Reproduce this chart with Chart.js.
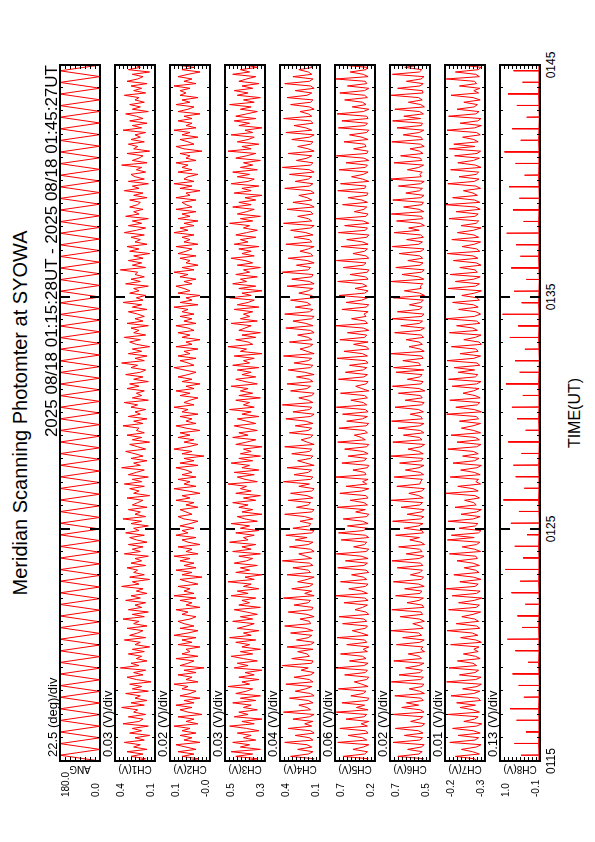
<!DOCTYPE html>
<html>
<head>
<meta charset="utf-8">
<script src="https://cdn.jsdelivr.net/npm/chart.js@4.4.0/dist/chart.umd.min.js"></script>
<style>
html, body { margin: 0; padding: 0; background: #fff; }
body { width: 595px; height: 842px; overflow: hidden; position: relative; font-family: "Liberation Sans", Arial, sans-serif; }
/* the figure is laid out in landscape and turned a quarter to the left */
#land { position: absolute; left: 0; top: 0; width: 842px; height: 595px; transform-origin: 0 0; transform: translate(0, 842px) rotate(-90deg); }
#land canvas { position: absolute; }
.t { position: absolute; white-space: nowrap; color: #000; line-height: 1; }
</style>
</head>
<body>
<div id="land"></div>
<script>
const titleText = "Meridian Scanning Photomter at SYOWA";
const rangeText = "2025 08/18 01:15:28UT - 2025 08/18 01:45:27UT";
const spanSec = 1800;

const panelNames = ["ANG", "CH1(V)", "CH2(V)", "CH3(V)", "CH4(V)", "CH5(V)", "CH6(V)", "CH7(V)", "CH8(V)"];
const panelDiv = ["22.5 (deg)/div", "0.03 (V)/div", "0.02 (V)/div", "0.03 (V)/div", "0.04 (V)/div", "0.06 (V)/div", "0.02 (V)/div", "0.01 (V)/div", "0.13 (V)/div"];
const topLabels = ["180.0", "0.4", "0.1", "0.5", "0.4", "0.7", "0.7", "-0.2", "1.0"];
const bottomLabels = ["0.0", "0.1", "-0.0", "0.3", "0.1", "0.2", "0.5", "-0.3", "-0.1"];
const axisMin = [0, 0.1, -0.05, 0.28, 0.08, 0.16, 0.5, -0.3, -0.12];
const axisMax = [180, 0.4, 0.15, 0.54, 0.42, 0.74, 0.7, -0.2, 1.02];
const axisDivs = [8, 10, 10, 10, 10, 10, 10, 10, 10];

const timeLabels = ["0115", "0125", "0135", "0145"];
const timeLabelSec = [0, 600, 1200, 1800];

// scan angle turning points (deg), one every half sweep
const ang = [0,180,0,180,0,180,0,180,0,180,0,180,0,180,0,180,0,180,0,180,
  0,180,0,180,0,180,0,180,0,180,0,180,0,180,0,180,0,180,0,180,
  0,180,0,180,0,180,0,180,0,180,0,180,0,180,0,180,0,180,0,180,
  0,180,0,180,0,180,0,180,0,180,0,180,0,180,0,180,0,180,0,180,
  0,180,0,180,0,180,0,180,0,180,0,180,0,180,0,180,0,180,0,180,
  0,180,0,180,0,180,0,180,0,180,0,180,0,180,0,180,0,180,0,180,0];

const ch1 = [0.24,0.17,0.28,0.19,0.31,0.16,0.26,0.21,0.33,0.18,0.25,0.14,
  0.29,0.20,0.27,0.15,0.34,0.22,0.19,0.30,0.17,0.26,0.23,0.35,
  0.18,0.28,0.16,0.25,0.21,0.32,0.15,0.27,0.20,0.29,0.13,0.24,
  0.31,0.19,0.26,0.17,0.36,0.22,0.28,0.16,0.24,0.20,0.30,0.18,
  0.27,0.14,0.25,0.21,0.33,0.17,0.29,0.23,0.19,0.31,0.16,0.26,
  0.22,0.34,0.18,0.27,0.15,0.30,0.20,0.25,0.17,0.32,0.21,0.28,
  0.16,0.24,0.19,0.35,0.22,0.27,0.14,0.29,0.18,0.26,0.23,0.31,
  0.17,0.28,0.20,0.25,0.15,0.33,0.21,0.27,0.19,0.30,0.16,0.24,
  0.29,0.18,0.32,0.22,0.26,0.15,0.28,0.20,0.34,0.17,0.25,0.21,
  0.30,0.16,0.27,0.23,0.19,0.31,0.14,0.26,0.22,0.29,0.18,0.33,
  0.20,0.27,0.15,0.30,0.24,0.18,0.35,0.21,0.26,0.16,0.28,0.19,
  0.25,0.32,0.17,0.23,0.29,0.14,0.27,0.20,0.31,0.18,0.24,0.22,
  0.34,0.19,0.26,0.16,0.30,0.21,0.25,0.17,0.28,0.23,0.33,0.15,
  0.27,0.20,0.24,0.18,0.31,0.22,0.29,0.15,0.26,0.19,0.32,0.21,
  0.17,0.28,0.23,0.35,0.18,0.25,0.16,0.30,0.20,0.27,0.14,0.24,
  0.29,0.21,0.33,0.17,0.26,0.22,0.28,0.15,0.31,0.19,0.25,0.18,
  0.23,0.30,0.16,0.27,0.20,0.34,0.19,0.24,0.17,0.29,0.22,0.26,
  0.15,0.32,0.21,0.28,0.18,0.25,0.23,0.36,0.17,0.27,0.20,0.30,
  0.19,0.26,0.14,0.29,0.22,0.31,0.16,0.25,0.21,0.28,0.18,0.33,
  0.24,0.17,0.30,0.20,0.27,0.15,0.32,0.22,0.26,0.19,0.29,0.23,
  0.21,0.29,0.16,0.26,0.19,0.33,0.22,0.27,0.15,0.30,0.18,0.25,
  0.28,0.17,0.24,0.20,0.35,0.16,0.27,0.22,0.19,0.31,0.14,0.26,
  0.23,0.30,0.18,0.28,0.21,0.25,0.17,0.34,0.20,0.27,0.16,0.29,
  0.19,0.24,0.32,0.15,0.27,0.21,0.29,0.18,0.25,0.22,0.33,0.17,
  0.26,0.20,0.28,0.16,0.31,0.23,0.19,0.27,0.14,0.30,0.21,0.25];

const ch2 = [0.06,0.01,0.09,0.03,0.11,0.02,0.07,0.12,0.00,0.08,0.04,0.10,
  0.02,0.09,0.05,0.13,0.01,0.07,0.03,0.11,-0.01,0.06,0.10,0.04,
  0.12,0.03,0.08,0.00,0.10,0.05,0.02,0.09,0.06,0.13,0.01,0.07,
  0.04,0.11,0.02,0.08,-0.02,0.10,0.06,0.03,0.12,0.01,0.09,0.05,
  0.07,0.00,0.11,0.04,0.09,0.02,0.13,0.06,0.01,0.10,0.03,0.08,
  0.11,0.05,0.02,0.09,0.06,0.12,0.00,0.07,0.04,0.10,0.02,0.13,
  0.03,0.08,0.05,0.11,0.01,0.06,0.10,-0.01,0.09,0.04,0.12,0.02,
  0.08,0.03,0.10,0.05,0.13,0.01,0.07,0.04,0.11,0.00,0.06,0.09,
  0.02,0.12,0.06,0.09,0.03,0.10,0.05,0.01,0.08,0.11,0.04,0.07,
  0.10,0.01,0.07,0.03,0.12,0.05,0.09,0.00,0.06,0.13,0.02,0.08,
  0.05,0.11,0.02,0.09,0.04,0.07,0.12,0.01,0.10,0.03,0.08,-0.02,
  0.09,0.04,0.13,0.06,0.01,0.08,0.03,0.11,0.05,0.10,0.00,0.07,
  0.12,0.02,0.07,0.04,0.10,0.01,0.09,0.06,0.13,0.03,0.08,0.05,
  0.01,0.10,0.05,0.12,0.03,0.07,0.00,0.09,0.04,0.11,0.06,0.02,
  0.08,0.13,0.03,0.06,0.10,0.02,0.11,0.05,0.08,0.01,0.12,0.04,
  0.07,0.00,0.09,0.05,0.11,0.03,0.06,0.12,0.02,0.08,0.04,0.10,
  0.03,0.09,0.06,0.13,0.01,0.10,0.04,0.07,0.00,0.11,0.05,0.08,
  0.12,0.04,0.08,0.02,0.10,0.06,0.13,0.03,0.09,0.01,0.07,0.05,
  0.10,0.02,0.11,0.07,0.04,0.12,0.01,0.08,0.05,0.09,0.03,0.13,
  0.06,0.10,0.03,0.08,0.01,0.11,0.05,0.09,0.02,0.12,0.04,0.07,
  0.09,0.02,0.12,0.05,0.07,0.00,0.10,0.04,0.13,0.03,0.08,0.06,
  0.01,0.11,0.04,0.09,0.06,0.12,0.02,0.07,0.05,0.10,-0.01,0.08,
  0.12,0.03,0.06,0.10,0.01,0.09,0.05,0.13,0.02,0.07,0.04,0.11,
  0.04,0.08,0.00,0.11,0.06,0.03,0.12,0.05,0.09,0.01,0.10,0.07,
  0.10,0.05,0.13,0.02,0.08,0.04,0.11,0.06,0.00,0.09,0.03,0.12];

const ch3 = [0.41,0.33,0.47,0.36,0.50,0.31,0.44,0.38,0.49,0.34,0.42,0.37,
  0.46,0.32,0.40,0.51,0.35,0.43,0.30,0.48,0.39,0.45,0.33,0.42,
  0.37,0.49,0.34,0.44,0.31,0.47,0.40,0.36,0.52,0.38,0.43,0.32,
  0.45,0.35,0.41,0.30,0.48,0.39,0.46,0.33,0.42,0.50,0.36,0.44,
  0.31,0.43,0.38,0.47,0.34,0.51,0.37,0.42,0.32,0.46,0.40,0.35,
  0.49,0.36,0.44,0.33,0.40,0.48,0.31,0.45,0.38,0.43,0.34,0.50,
  0.39,0.46,0.32,0.42,0.37,0.52,0.35,0.41,0.30,0.47,0.38,0.44,
  0.33,0.48,0.40,0.36,0.45,0.31,0.49,0.37,0.43,0.34,0.51,0.39,
  0.42,0.35,0.47,0.32,0.44,0.38,0.50,0.33,0.41,0.46,0.30,0.43,
  0.36,0.45,0.39,0.49,0.34,0.42,0.31,0.47,0.37,0.44,0.40,0.52,
  0.33,0.41,0.46,0.35,0.48,0.32,0.43,0.38,0.50,0.36,0.45,0.31,
  0.44,0.37,0.42,0.30,0.47,0.40,0.34,0.49,0.39,0.45,0.33,0.41,
  0.48,0.34,0.40,0.46,0.32,0.43,0.37,0.51,0.35,0.42,0.38,0.47,
  0.31,0.45,0.36,0.44,0.39,0.50,0.33,0.41,0.47,0.34,0.43,0.37,
  0.46,0.32,0.49,0.38,0.42,0.35,0.48,0.30,0.44,0.40,0.52,0.36,
  0.39,0.47,0.34,0.43,0.31,0.45,0.41,0.37,0.50,0.33,0.44,0.38,
  0.42,0.36,0.48,0.32,0.46,0.39,0.35,0.51,0.37,0.43,0.30,0.45,
  0.34,0.49,0.40,0.44,0.33,0.47,0.38,0.42,0.31,0.46,0.36,0.41,
  0.50,0.35,0.43,0.37,0.45,0.32,0.48,0.39,0.44,0.34,0.47,0.40,
  0.33,0.42,0.38,0.51,0.36,0.44,0.31,0.46,0.40,0.35,0.49,0.37,
  0.45,0.34,0.41,0.30,0.48,0.37,0.43,0.32,0.50,0.39,0.35,0.46,
  0.38,0.49,0.33,0.44,0.36,0.42,0.31,0.47,0.40,0.34,0.52,0.37,
  0.43,0.32,0.46,0.39,0.35,0.50,0.36,0.41,0.30,0.45,0.38,0.48,
  0.34,0.47,0.40,0.33,0.44,0.37,0.51,0.35,0.42,0.31,0.46,0.39,
  0.48,0.36,0.43,0.32,0.45,0.40,0.34,0.49,0.38,0.44,0.33,0.41];

const ch4 = [0.16,0.13,0.33,0.18,0.14,0.27,0.15,0.19,0.38,0.14,0.17,0.29,
  0.13,0.16,0.35,0.15,0.21,0.14,0.31,0.17,0.13,0.39,0.16,0.19,
  0.26,0.14,0.18,0.34,0.13,0.16,0.29,0.20,0.15,0.37,0.14,0.17,
  0.30,0.16,0.13,0.24,0.18,0.40,0.15,0.14,0.32,0.17,0.19,0.27,
  0.14,0.36,0.16,0.13,0.28,0.18,0.15,0.33,0.14,0.20,0.38,0.16,
  0.17,0.25,0.13,0.19,0.35,0.15,0.14,0.30,0.18,0.16,0.39,0.13,
  0.21,0.15,0.32,0.17,0.14,0.27,0.19,0.13,0.36,0.16,0.18,0.31,
  0.14,0.17,0.40,0.15,0.20,0.26,0.13,0.16,0.34,0.18,0.14,0.29,
  0.19,0.37,0.15,0.13,0.31,0.17,0.16,0.25,0.14,0.21,0.38,0.15,
  0.13,0.28,0.18,0.16,0.35,0.14,0.19,0.33,0.15,0.13,0.26,0.17,
  0.39,0.16,0.14,0.30,0.18,0.15,0.36,0.13,0.20,0.27,0.16,0.14,
  0.32,0.17,0.15,0.38,0.13,0.19,0.24,0.16,0.14,0.34,0.18,0.15,
  0.29,0.14,0.20,0.37,0.16,0.13,0.31,0.17,0.15,0.40,0.14,0.18,
  0.26,0.15,0.13,0.33,0.19,0.16,0.36,0.14,0.17,0.28,0.13,0.21,
  0.35,0.16,0.14,0.30,0.18,0.15,0.39,0.13,0.19,0.25,0.17,0.14,
  0.34,0.15,0.18,0.27,0.13,0.16,0.37,0.14,0.20,0.31,0.15,0.13,
  0.38,0.17,0.14,0.29,0.16,0.19,0.33,0.13,0.15,0.26,0.18,0.14,
  0.36,0.13,0.17,0.32,0.15,0.14,0.40,0.18,0.16,0.28,0.13,0.19,
  0.35,0.14,0.16,0.25,0.18,0.13,0.37,0.15,0.17,0.30,0.14,0.20,
  0.33,0.16,0.13,0.39,0.15,0.18,0.27,0.14,0.16,0.36,0.13,0.17,
  0.31,0.15,0.19,0.26,0.13,0.16,0.38,0.17,0.14,0.29,0.18,0.15,
  0.34,0.13,0.17,0.40,0.16,0.14,0.28,0.19,0.15,0.35,0.13,0.18,
  0.27,0.16,0.14,0.32,0.17,0.13,0.37,0.15,0.20,0.30,0.14,0.16,
  0.39,0.15,0.18,0.25,0.13,0.17,0.33,0.16,0.14,0.36,0.19,0.15,
  0.29,0.13,0.16,0.38,0.17,0.14,0.31,0.15,0.18,0.26,0.14,0.17];

const ch5 = [0.29,0.26,0.62,0.31,0.27,0.48,0.33,0.25,0.70,0.28,0.34,0.55,
  0.26,0.30,0.67,0.27,0.36,0.25,0.58,0.32,0.28,0.72,0.26,0.43,
  0.31,0.64,0.27,0.25,0.51,0.33,0.29,0.69,0.26,0.35,0.46,0.28,
  0.25,0.60,0.30,0.27,0.73,0.32,0.26,0.53,0.29,0.34,0.66,0.27,
  0.33,0.25,0.57,0.28,0.31,0.71,0.26,0.36,0.49,0.30,0.27,0.63,
  0.28,0.32,0.68,0.25,0.29,0.45,0.34,0.27,0.61,0.26,0.31,0.73,
  0.27,0.35,0.54,0.30,0.26,0.66,0.28,0.33,0.50,0.25,0.29,0.70,
  0.32,0.27,0.59,0.26,0.36,0.72,0.29,0.25,0.47,0.31,0.28,0.65,
  0.25,0.30,0.69,0.33,0.27,0.56,0.26,0.34,0.62,0.28,0.25,0.44,
  0.30,0.71,0.27,0.32,0.52,0.26,0.29,0.67,0.35,0.25,0.58,0.28,
  0.34,0.26,0.73,0.29,0.31,0.48,0.27,0.25,0.64,0.32,0.28,0.55,
  0.26,0.33,0.60,0.28,0.25,0.70,0.30,0.36,0.46,0.27,0.31,0.68,
  0.29,0.25,0.57,0.34,0.27,0.63,0.26,0.30,0.72,0.28,0.33,0.51,
  0.27,0.31,0.66,0.25,0.35,0.44,0.29,0.26,0.69,0.32,0.27,0.59,
  0.33,0.28,0.53,0.26,0.30,0.71,0.27,0.34,0.61,0.25,0.29,0.47,
  0.26,0.67,0.31,0.28,0.56,0.25,0.33,0.73,0.27,0.30,0.50,0.29,
  0.32,0.26,0.64,0.29,0.25,0.58,0.35,0.27,0.68,0.31,0.26,0.45,
  0.28,0.34,0.70,0.26,0.30,0.52,0.27,0.25,0.62,0.33,0.29,0.72,
  0.25,0.29,0.48,0.31,0.27,0.65,0.26,0.34,0.57,0.28,0.25,0.69,
  0.30,0.27,0.60,0.25,0.33,0.73,0.29,0.26,0.46,0.32,0.28,0.63,
  0.27,0.35,0.55,0.28,0.26,0.70,0.31,0.29,0.66,0.25,0.34,0.50,
  0.33,0.26,0.68,0.30,0.27,0.58,0.25,0.32,0.72,0.28,0.26,0.47,
  0.29,0.31,0.61,0.26,0.35,0.53,0.28,0.25,0.69,0.30,0.27,0.64,
  0.26,0.28,0.71,0.33,0.25,0.49,0.29,0.34,0.60,0.27,0.31,0.67,
  0.31,0.25,0.56,0.28,0.30,0.73,0.26,0.33,0.52,0.29,0.27,0.65];

const ch6 = [0.548,0.532,0.661,0.556,0.539,0.612,0.544,0.529,0.684,0.551,0.537,0.628,
  0.535,0.558,0.673,0.541,0.527,0.597,0.553,0.536,0.689,0.530,0.549,0.641,
  0.557,0.618,0.534,0.545,0.676,0.528,0.552,0.604,0.539,0.531,0.693,0.547,
  0.533,0.655,0.549,0.538,0.622,0.556,0.530,0.681,0.543,0.554,0.609,0.527,
  0.546,0.535,0.668,0.551,0.529,0.637,0.542,0.557,0.695,0.534,0.548,0.586,
  0.528,0.553,0.649,0.537,0.545,0.691,0.531,0.539,0.615,0.555,0.533,0.672,
  0.550,0.541,0.627,0.529,0.556,0.683,0.544,0.532,0.598,0.549,0.538,0.664,
  0.536,0.547,0.690,0.554,0.530,0.619,0.539,0.552,0.657,0.527,0.545,0.601,
  0.553,0.672,0.533,0.541,0.630,0.557,0.535,0.687,0.548,0.531,0.614,0.544,
  0.529,0.645,0.551,0.537,0.694,0.534,0.556,0.606,0.542,0.528,0.666,0.550,
  0.547,0.538,0.679,0.532,0.549,0.623,0.555,0.530,0.652,0.543,0.536,0.696,
  0.534,0.556,0.610,0.545,0.527,0.686,0.540,0.553,0.633,0.531,0.548,0.660,
  0.552,0.530,0.692,0.538,0.546,0.599,0.533,0.557,0.675,0.542,0.529,0.624,
  0.539,0.548,0.658,0.526,0.554,0.688,0.545,0.535,0.613,0.551,0.540,0.670,
  0.531,0.682,0.547,0.556,0.636,0.534,0.543,0.697,0.529,0.550,0.605,0.538,
  0.555,0.620,0.532,0.544,0.677,0.549,0.528,0.646,0.553,0.537,0.690,0.541,
  0.530,0.663,0.554,0.539,0.603,0.546,0.533,0.684,0.527,0.552,0.628,0.545,
  0.548,0.536,0.695,0.531,0.557,0.640,0.542,0.529,0.671,0.550,0.535,0.611,
  0.537,0.551,0.654,0.545,0.530,0.689,0.556,0.538,0.617,0.533,0.547,0.679,
  0.554,0.607,0.528,0.549,0.667,0.536,0.543,0.693,0.531,0.555,0.632,0.540,
  0.533,0.686,0.546,0.530,0.621,0.552,0.538,0.658,0.547,0.529,0.699,0.544,
  0.550,0.539,0.613,0.556,0.532,0.680,0.541,0.549,0.647,0.535,0.553,0.600,
  0.529,0.548,0.691,0.537,0.545,0.634,0.554,0.531,0.665,0.543,0.538,0.687,
  0.547,0.631,0.533,0.552,0.676,0.528,0.546,0.608,0.539,0.557,0.694,0.535,
  0.538,0.662,0.550,0.534,0.618,0.545,0.530,0.688,0.553,0.541,0.626,0.548];

const ch7 = [-0.281,-0.273,-0.226,-0.286,-0.269,-0.241,-0.278,-0.290,-0.212,-0.275,-0.284,-0.233,
  -0.288,-0.271,-0.219,-0.279,-0.292,-0.247,-0.274,-0.283,-0.207,-0.286,-0.270,-0.238,
  -0.276,-0.229,-0.289,-0.282,-0.215,-0.272,-0.287,-0.244,-0.280,-0.291,-0.204,-0.277,
  -0.290,-0.236,-0.275,-0.284,-0.210,-0.279,-0.270,-0.231,-0.288,-0.276,-0.246,-0.283,
  -0.272,-0.285,-0.214,-0.291,-0.277,-0.239,-0.282,-0.268,-0.205,-0.287,-0.279,-0.228,
  -0.284,-0.274,-0.242,-0.270,-0.289,-0.209,-0.278,-0.286,-0.234,-0.273,-0.292,-0.218,
  -0.279,-0.288,-0.203,-0.275,-0.283,-0.237,-0.290,-0.271,-0.222,-0.285,-0.276,-0.248,
  -0.286,-0.270,-0.230,-0.281,-0.277,-0.211,-0.289,-0.274,-0.243,-0.279,-0.287,-0.206,
  -0.273,-0.216,-0.284,-0.290,-0.235,-0.276,-0.282,-0.208,-0.271,-0.288,-0.240,-0.279,
  -0.291,-0.225,-0.278,-0.272,-0.249,-0.286,-0.275,-0.202,-0.283,-0.270,-0.232,-0.289,
  -0.277,-0.284,-0.213,-0.288,-0.273,-0.239,-0.280,-0.291,-0.220,-0.274,-0.285,-0.244,
  -0.283,-0.271,-0.207,-0.279,-0.290,-0.230,-0.286,-0.276,-0.215,-0.289,-0.272,-0.241,
  -0.270,-0.289,-0.236,-0.284,-0.278,-0.204,-0.291,-0.273,-0.227,-0.281,-0.287,-0.212,
  -0.288,-0.275,-0.245,-0.271,-0.285,-0.218,-0.279,-0.290,-0.209,-0.276,-0.282,-0.233,
  -0.274,-0.223,-0.287,-0.280,-0.205,-0.272,-0.289,-0.238,-0.283,-0.277,-0.216,-0.291,
  -0.285,-0.247,-0.276,-0.290,-0.211,-0.281,-0.270,-0.229,-0.287,-0.279,-0.203,-0.273,
  -0.289,-0.277,-0.234,-0.283,-0.271,-0.219,-0.286,-0.280,-0.242,-0.274,-0.291,-0.208,
  -0.276,-0.286,-0.226,-0.272,-0.288,-0.213,-0.281,-0.275,-0.237,-0.290,-0.278,-0.221,
  -0.282,-0.270,-0.206,-0.287,-0.279,-0.243,-0.273,-0.289,-0.217,-0.284,-0.272,-0.231,
  -0.271,-0.290,-0.240,-0.278,-0.284,-0.210,-0.275,-0.283,-0.228,-0.288,-0.276,-0.201,
  -0.287,-0.274,-0.219,-0.281,-0.270,-0.246,-0.289,-0.277,-0.207,-0.273,-0.285,-0.235,
  -0.278,-0.284,-0.214,-0.290,-0.276,-0.232,-0.271,-0.286,-0.224,-0.280,-0.289,-0.211,
  -0.275,-0.222,-0.283,-0.272,-0.244,-0.288,-0.279,-0.205,-0.274,-0.291,-0.238,-0.282,
  -0.290,-0.209,-0.277,-0.285,-0.230,-0.273,-0.281,-0.247,-0.288,-0.270,-0.215,-0.284,
  -0.272,-0.287,-0.236,-0.279,-0.274,-0.203,-0.286,-0.277,-0.226,-0.283,-0.290,-0.241];

// CH8: one sharp peak per scan cycle, on a flat floor
const ch8Peak = [0.42,0.61,0.28,0.55,0.73,0.34,0.49,0.66,0.22,0.58,
  0.81,0.39,0.52,0.30,0.69,0.45,0.87,0.36,0.60,0.25,
  0.71,0.48,0.92,0.33,0.57,0.64,0.41,0.78,0.29,0.53,
  0.68,0.37,0.85,0.46,0.59,0.31,0.74,0.50,0.95,0.40,
  0.62,0.27,0.70,0.44,0.56,0.83,0.35,0.65,0.47,0.76,
  0.32,0.58,0.89,0.43,0.67,0.26,0.54,0.79,0.38,0.63];
const ch8Floor = [-0.09,-0.08,-0.09,-0.09,-0.08,-0.09,-0.10,-0.09,-0.08,-0.09,
  -0.09,-0.08,-0.09,-0.10,-0.09,-0.08,-0.09,-0.09,-0.08,-0.09,
  -0.10,-0.09,-0.08,-0.09,-0.09,-0.08,-0.09,-0.10,-0.09,-0.08,
  -0.09,-0.09,-0.08,-0.09,-0.10,-0.09,-0.08,-0.09,-0.09,-0.08,
  -0.09,-0.10,-0.09,-0.08,-0.09,-0.09,-0.08,-0.09,-0.10,-0.09,
  -0.08,-0.09,-0.09,-0.08,-0.09,-0.10,-0.09,-0.08,-0.09,-0.09];

const PLOT_L = 81, PLOT_R = 777, PANEL_TOP = 60, PANEL_H = 40, PANEL_STEP = 55, PAD = 3;
const land = document.getElementById("land");

function evenSeries(vals) {
    const step = spanSec / (vals.length - 1);
    return vals.map((v, i) => ({ x: i * step, y: v }));
}

function spikeSeries(peaks, floor) {
    const cycle = spanSec / peaks.length;
    let pts = [{ x: 0, y: floor[0] }];
    peaks.forEach((p, j) => {
        const t = j * cycle + cycle / 2;
        pts.push({ x: t - 0.8, y: floor[j] }, { x: t, y: p }, { x: t + 0.8, y: floor[j] });
    });
    pts.push({ x: spanSec, y: floor[floor.length - 1] });
    return pts;
}

const seriesList = [evenSeries(ang), evenSeries(ch1), evenSeries(ch2), evenSeries(ch3), evenSeries(ch4),
    evenSeries(ch5), evenSeries(ch6), evenSeries(ch7), spikeSeries(ch8Peak, ch8Floor)];

function addText(txt, x, y, size, tf) {
    const el = document.createElement("div");
    el.className = "t";
    el.textContent = txt;
    el.style.left = x + "px";
    el.style.top = y + "px";
    el.style.fontSize = size + "px";
    if (tf) el.style.transform = tf;
    land.appendChild(el);
    return el;
}

// frame + inward ticks, drawn from the chart's own scales
const framePlugin = {
    id: "frame",
    afterDatasetsDraw(chart, args, opts) {
        const { ctx, chartArea: a, scales: { x, y } } = chart;
        ctx.save();
        ctx.strokeStyle = "#000";
        for (let s = 60; s < spanSec; s += 60) {
            const major = s % 600 === 0;
            const px = Math.round(x.getPixelForValue(s)) + (major ? 0 : 0.5);
            const len = major ? 10 : 3;
            ctx.lineWidth = major ? 2 : 1;
            ctx.beginPath();
            ctx.moveTo(px, a.top); ctx.lineTo(px, a.top + len);
            ctx.moveTo(px, a.bottom); ctx.lineTo(px, a.bottom - len);
            ctx.stroke();
        }
        ctx.lineWidth = 1;
        const lo = y.min, hi = y.max;
        for (let k = 1; k < opts.divs; k++) {
            const py = Math.round(y.getPixelForValue(lo + (hi - lo) * k / opts.divs)) + 0.5;
            ctx.beginPath();
            ctx.moveTo(a.left, py); ctx.lineTo(a.left + 4, py);
            ctx.moveTo(a.right, py); ctx.lineTo(a.right - 4, py);
            ctx.stroke();
        }
        ctx.lineWidth = 2;
        ctx.strokeRect(a.left, a.top, a.right - a.left, a.bottom - a.top);
        ctx.restore();
    }
};

let charts = [];
seriesList.forEach((pts, i) => {
    const cv = document.createElement("canvas");
    const top = PANEL_TOP + i * PANEL_STEP;
    cv.width = PLOT_R - PLOT_L + 2 * PAD;
    cv.height = PANEL_H + 2 * PAD;
    cv.style.left = (PLOT_L - PAD) + "px";
    cv.style.top = (top - PAD) + "px";
    land.appendChild(cv);
    charts.push(new Chart(cv, {
        type: "line",
        data: {
            datasets: [{
                data: pts,
                borderColor: "#ff0000",
                borderWidth: 1,
                pointRadius: 0,
                tension: 0,
                fill: false
            }]
        },
        options: {
            responsive: false,
            animation: false,
            events: [],
            layout: { padding: PAD },
            plugins: {
                legend: { display: false },
                tooltip: { enabled: false },
                frame: { divs: axisDivs[i] }
            },
            scales: {
                x: { type: "linear", min: 0, max: spanSec, display: false },
                y: { min: axisMin[i], max: axisMax[i], display: false }
            }
        },
        plugins: [framePlugin]
    }));

    // per-panel texts
    addText(panelDiv[i], 85, top - 14, 13);
    addText(topLabels[i], 45, top + 1, 10);
    addText(bottomLabels[i], 45, top + PANEL_H - 9, 10);
    addText(panelNames[i], 73, top + PANEL_H / 2, 10, "translate(-50%,-50%) rotate(-90deg)");
});

addText(titleText, 429, 20, 20, "translate(-50%,-50%)");
addText(rangeText, PLOT_R, 43, 17, "translateX(-100%)");

const last = charts[charts.length - 1];
const lastTop = PANEL_TOP + (charts.length - 1) * PANEL_STEP;
timeLabels.forEach((lab, k) => {
    const px = PLOT_L - PAD + last.scales.x.getPixelForValue(timeLabelSec[k]);
    addText(lab, px, lastTop + PANEL_H + 5, 12, "translateX(-50%)");
});
addText("TIME(UT)", 429, 575, 16, "translate(-50%,-50%)");
</script>
</body>
</html>
